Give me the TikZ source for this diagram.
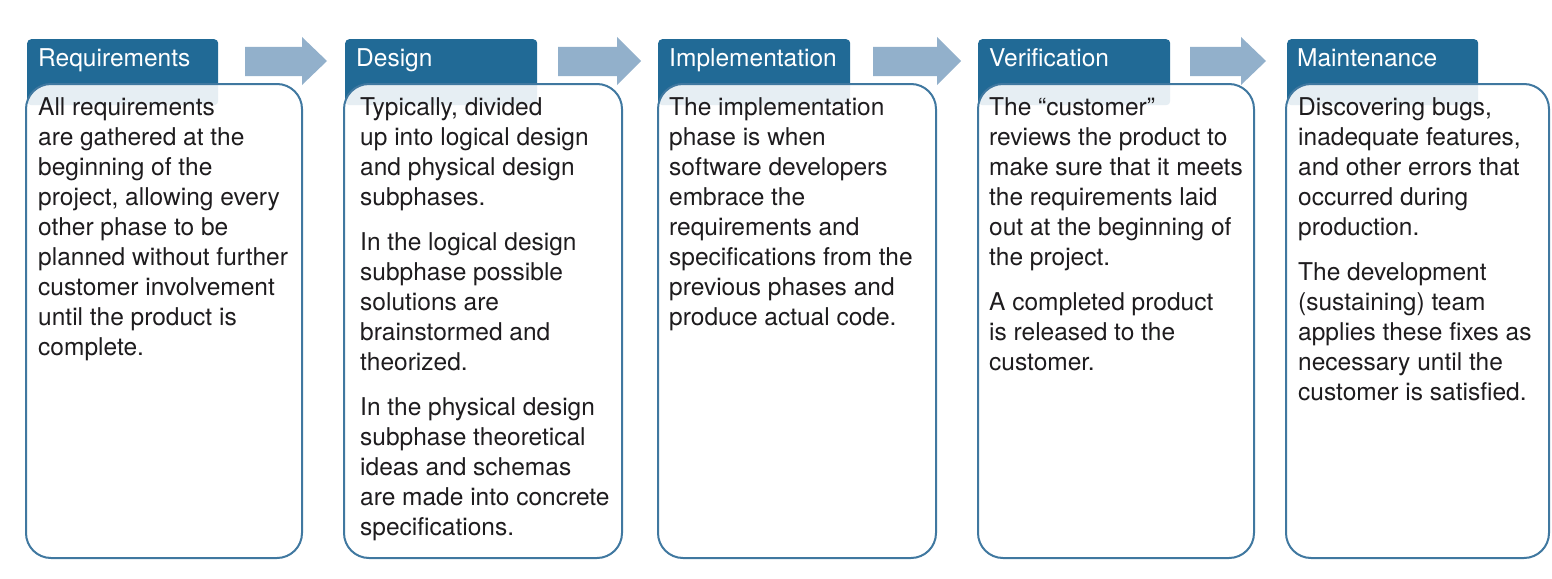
\documentclass[tikz,border=0pt]{standalone}
\usepackage{fontspec}
\setmainfont{TeX Gyre Heros}
\definecolor{hdrblue}{RGB}{33,106,150}
\definecolor{arrblue}{RGB}{146,176,203}
\definecolor{edgeblue}{RGB}{64,120,160}
\definecolor{txt}{RGB}{30,28,30}
\begin{document}
\begin{tikzpicture}[x=1pt,y=-1pt,
  hdr/.style={draw=none,fill=hdrblue,rounded corners=4pt,anchor=north west,inner sep=0pt},
  body/.style={draw=edgeblue,line width=2pt,fill=white,fill opacity=0.89,rounded corners=25pt,anchor=north west,inner sep=0pt},
  hdrtext/.style={text=white,anchor=base west,inner sep=0pt,font=\fontsize{24.5}{30}\selectfont},
  bodytext/.style={text=txt,anchor=north west,inner sep=0pt,align=left,font=\fontsize{24.5}{30}\selectfont},
  blockarrow/.style={fill=arrblue,draw=none}]
\useasboundingbox (0,0) rectangle (1552,578);
% headers
\node[hdr,minimum width=191pt,minimum height=66pt] (h1) at (27,39) {};
\node[hdr,minimum width=192pt,minimum height=66pt] (h2) at (345,39) {};
\node[hdr,minimum width=192pt,minimum height=66pt] (h3) at (658,39) {};
\node[hdr,minimum width=192pt,minimum height=66pt] (h4) at (978,39) {};
\node[hdr,minimum width=191pt,minimum height=66pt] (h5) at (1287,39) {};
% bodies
\node[body,minimum width=276pt,minimum height=474pt] (b1) at (25,83) {};
\node[body,minimum width=278pt,minimum height=474pt] (b2) at (343,83) {};
\node[body,minimum width=278pt,minimum height=474pt] (b3) at (657,83) {};
\node[body,minimum width=276pt,minimum height=474pt] (b4) at (977,83) {};
\node[body,minimum width=263pt,minimum height=474pt] (b5) at (1285,83) {};
% arrows
\fill[blockarrow] (245,47) -- (302,47) -- (302,37) -- (327,61) -- (302,85) -- (302,76) -- (245,76) -- cycle;
\fill[blockarrow] (558,47) -- (617,47) -- (617,37) -- (641,61) -- (617,85) -- (617,76) -- (558,76) -- cycle;
\fill[blockarrow] (873,47) -- (937,47) -- (937,37) -- (961,61) -- (937,85) -- (937,76) -- (873,76) -- cycle;
\fill[blockarrow] (1190,47) -- (1241,47) -- (1241,37) -- (1266,61) -- (1241,85) -- (1241,76) -- (1190,76) -- cycle;
% header texts
\node[hdrtext] (ht1) at (38,66.5) {Requirements};
\node[hdrtext] (ht2) at (356,66.5) {Design};
\node[hdrtext] (ht3) at (669,66.5) {Implementation};
\node[hdrtext] (ht4) at (989,66.5) {Verification};
\node[hdrtext] (ht5) at (1297,66.5) {Maintenance};
% body texts
\node[bodytext] (t1) at (38,97) {All requirements\\are gathered at the\\beginning of the\\project, allowing every\\other phase to be\\planned without further\\customer involvement\\until the product is\\complete.};
\node[bodytext] (t2) at (360,97) {Typically, divided\\up into logical design\\and physical design\\subphases.\\[15pt]In the logical design\\subphase possible\\solutions are\\brainstormed and\\theorized.\\[15pt]In the physical design\\subphase theoretical\\ideas and schemas\\are made into concrete\\specifications.};
\node[bodytext] (t3) at (669,97) {The implementation\\phase is when\\software developers\\embrace the\\requirements and\\specifications from the\\previous phases and\\produce actual code.};
\node[bodytext] (t4) at (989,97) {The “customer”\\reviews the product to\\make sure that it meets\\the requirements laid\\out at the beginning of\\the project.\\[15pt]A completed product\\is released to the\\customer.};
\node[bodytext] (t5) at (1298,97) {Discovering bugs,\\inadequate features,\\and other errors that\\occurred during\\production.\\[15pt]The development\\(sustaining) team\\applies these fixes as\\necessary until the\\customer is satisfied.};
\end{tikzpicture}
\end{document}
